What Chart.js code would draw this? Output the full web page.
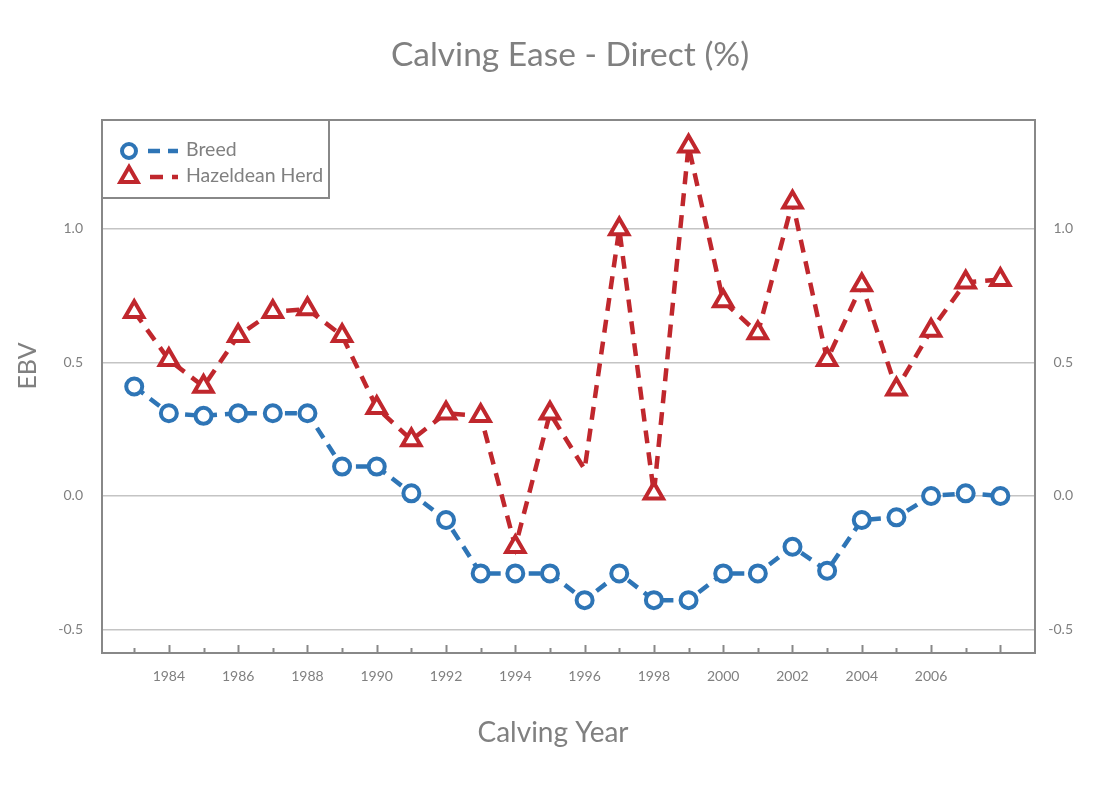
<!DOCTYPE html>
<html>
<head>
<meta charset="utf-8">
<script src="https://cdn.jsdelivr.net/npm/chart.js@4.4.1/dist/chart.umd.min.js"></script>
<style>
  body { margin: 0; background: #fff; }
  canvas { display: block; }
</style>
</head>
<body>
<canvas id="chart" width="1100" height="795"></canvas>
<script>
const years = [1983, 1984, 1985, 1986, 1987, 1988, 1989, 1990, 1991, 1992, 1993, 1994, 1995,
  1996, 1997, 1998, 1999, 2000, 2001, 2002, 2003, 2004, 2005, 2006, 2007, 2008];
const breed = [0.41, 0.31, 0.30, 0.31, 0.31, 0.31, 0.11, 0.11, 0.01, -0.09, -0.29, -0.29, -0.29,
  -0.39, -0.29, -0.39, -0.39, -0.29, -0.29, -0.19, -0.28, -0.09, -0.08, 0.0, 0.01, 0.0];
const herd = [0.69, 0.51, 0.41, 0.60, 0.69, 0.70, 0.60, 0.33, 0.21, 0.31, 0.30, -0.19, 0.31,
  0.10, 1.00, 0.01, 1.31, 0.73, 0.61, 1.10, 0.51, 0.79, 0.40, 0.62, 0.80, 0.81];
const herdHidden = [1996]; // no marker drawn for this year
const xLabels = [1984, 1986, 1988, 1990, 1992, 1994, 1996, 1998, 2000, 2002, 2004, 2006];
const yTicks = [-0.5, 0.0, 0.5, 1.0];

const BLUE = '#2e75b6';
const RED = '#c0272d';
const GREY = '#808080';
const FONT = 'Lato, "Open Sans", sans-serif';

// frame, small year ticks, titles and the boxed legend
const framePlugin = {
  id: 'frame',
  afterDraw(chart) {
    const { ctx, chartArea: a, scales: { x } } = chart;
    ctx.save();
    ctx.strokeStyle = '#888';
    ctx.lineWidth = 2;
    ctx.strokeRect(a.left, a.top, a.right - a.left, a.bottom - a.top);

    years.forEach(v => {
      const px = Math.round(x.getPixelForValue(v)) + 0.5;
      const len = v % 2 === 0 ? 8 : 5;
      ctx.beginPath();
      ctx.moveTo(px, a.bottom);
      ctx.lineTo(px, a.bottom - len);
      ctx.stroke();
    });

    // titles
    ctx.fillStyle = GREY;
    ctx.textAlign = 'center';
    ctx.textBaseline = 'middle';
    ctx.font = '33.5px ' + FONT;
    ctx.fillText('Calving Ease - Direct (%)', 570, 55);
    ctx.font = '28px ' + FONT;
    ctx.fillText('Calving Year', 553, 733);
    ctx.save();
    ctx.translate(28, 366);
    ctx.rotate(-Math.PI / 2);
    ctx.font = '25px ' + FONT;
    ctx.fillText('EBV', 0, 0);
    ctx.restore();

    // legend box
    const lx = a.left, ly = a.top, lw = 227, lh = 78;
    ctx.fillStyle = '#fff';
    ctx.fillRect(lx, ly, lw, lh);
    ctx.strokeRect(lx, ly, lw, lh);

    chart.data.datasets.forEach((ds, i) => {
      const cy = ly + 31 + i * 26;
      const mx = lx + 27;
      ctx.strokeStyle = ds.borderColor;
      ctx.lineWidth = 4.5;
      ctx.setLineDash(ds.borderDash);
      ctx.lineDashOffset = i === 0 ? -4 : -6;
      ctx.beginPath();
      ctx.moveTo(mx + 15, cy);
      ctx.lineTo(mx + 49, cy);
      ctx.stroke();
      ctx.setLineDash([]);
      ctx.fillStyle = '#fff';
      ctx.lineWidth = 4;
      ctx.beginPath();
      if (ds.pointStyle === 'circle') {
        ctx.arc(mx, cy, 7, 0, Math.PI * 2);
      } else {
        const r = 10;
        ctx.moveTo(mx, cy - r);
        ctx.lineTo(mx + r * 0.866, cy + r * 0.5);
        ctx.lineTo(mx - r * 0.866, cy + r * 0.5);
        ctx.closePath();
      }
      ctx.fill();
      ctx.stroke();
      ctx.fillStyle = GREY;
      ctx.font = '19.5px ' + FONT;
      ctx.textAlign = 'left';
      ctx.fillText(ds.label, lx + 84, cy - 1);
    });
    ctx.restore();
  }
};

const yScaleBase = {
  type: 'linear',
  min: -0.588,
  max: 1.408,
  afterBuildTicks: s => { s.ticks = yTicks.map(v => ({ value: v })); },
  ticks: {
    color: GREY,
    font: { family: FONT, size: 14 },
    callback: v => v.toFixed(1)
  },
  border: { display: false }
};

new Chart(document.getElementById('chart'), {
  type: 'line',
  data: {
    datasets: [
      {
        label: 'Breed',
        data: years.map((y, i) => ({ x: y, y: breed[i] })),
        borderColor: BLUE,
        borderWidth: 4.5,
        borderDash: [12, 8],
        pointStyle: 'circle',
        pointRadius: 8,
        pointBorderWidth: 4,
        pointBackgroundColor: '#fff',
        pointBorderColor: BLUE,
        tension: 0
      },
      {
        label: 'Hazeldean Herd',
        data: years.map((y, i) => ({ x: y, y: herd[i] })),
        borderColor: RED,
        borderWidth: 4.5,
        borderDash: [13, 9],
        pointStyle: 'triangle',
        pointRadius: years.map(y => herdHidden.includes(y) ? 0 : 10.5),
        pointBorderWidth: 4,
        pointBackgroundColor: '#fff',
        pointBorderColor: RED,
        tension: 0
      }
    ]
  },
  options: {
    responsive: false,
    animation: false,
    layout: { padding: { left: 0, right: 27, top: 120, bottom: 0 } },
    plugins: {
      legend: { display: false },
      tooltip: { enabled: false },
      title: { display: false }
    },
    scales: {
      x: {
        type: 'linear',
        min: 1982.07,
        max: 2009,
        afterBuildTicks: s => { s.ticks = years.map(v => ({ value: v })); },
        afterFit: s => { s.height = 142; },
        ticks: {
          autoSkip: false,
          maxRotation: 0,
          color: GREY,
          padding: 15,
          font: { family: FONT, size: 14 },
          callback: v => xLabels.includes(v) ? String(v) : ''
        },
        grid: { display: false, drawTicks: false },
        border: { display: false }
      },
      y: {
        ...yScaleBase,
        position: 'left',
        afterFit: s => { s.width = 102; },
        ticks: { ...yScaleBase.ticks, padding: 19 },
        grid: { color: '#c4c4c4', lineWidth: 1.5, drawTicks: false }
      },
      y2: {
        ...yScaleBase,
        position: 'right',
        afterFit: s => { s.width = 38; },
        ticks: { ...yScaleBase.ticks, padding: 12, crossAlign: 'far' },
        grid: { display: false, drawTicks: false }
      }
    }
  },
  plugins: [framePlugin]
});
</script>
</body>
</html>
